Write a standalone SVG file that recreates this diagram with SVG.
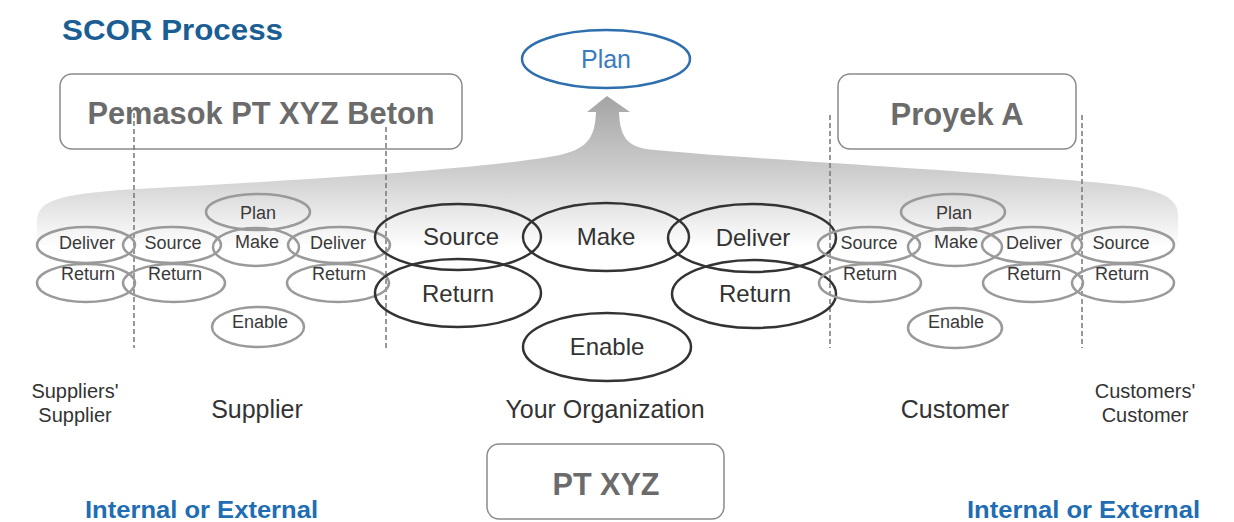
<svg xmlns="http://www.w3.org/2000/svg" width="1234" height="522" viewBox="0 0 1234 522">
<style>
.t{font-family:"Liberation Sans",Arial,sans-serif;text-anchor:middle}
.sm{fill:none;stroke:#9a9a9a;stroke-width:2.5}
.bg{fill:none;stroke:#333;stroke-width:2.5}
.st{font-size:18px;fill:#3a3a3a}
.bt{font-size:24px;fill:#333}
.lb{font-size:25px;fill:#333}
.lb2{font-size:20px;fill:#333}
.box{fill:#fff;stroke:#8a8a8a;stroke-width:1.5}
.bx{font-size:31px;font-weight:bold;fill:#6b6b6b}
.ie{font-family:"Liberation Sans",Arial,sans-serif;font-size:24px;font-weight:bold;fill:#1f6db3}
.dash{stroke:#777;stroke-width:1.5;stroke-dasharray:5 3;fill:none}
</style>
<defs>
<linearGradient id="gr" gradientUnits="userSpaceOnUse" x1="0" y1="100" x2="0" y2="248">
<stop offset="0" stop-color="#a6a6a6"/>
<stop offset="0.5" stop-color="#cfcfcf"/>
<stop offset="0.8" stop-color="#ececec"/>
<stop offset="1" stop-color="#ffffff"/>
</linearGradient>
</defs>
<rect width="1234" height="522" fill="#fff"/>
<text x="62" y="40" font-family="Liberation Sans,Arial,sans-serif" font-size="30" font-weight="bold" fill="#1b5e93" textLength="221" lengthAdjust="spacingAndGlyphs">SCOR Process</text>
<path id="band" d="M37 245 L37 222 C37 200 60 195 120 190 C300 180 480 170 560 155 C590 148 595 135 596 112 L587 112 L607 96 L630 112 L619 112 C620 135 625 148 655 150 C760 160 1000 172 1120 185 C1165 190 1178 200 1178 215 L1178 245 Z" fill="url(#gr)"/>
<g id="plan-top">
<ellipse cx="606" cy="59" rx="84" ry="29" fill="#fff" stroke="#2f6fad" stroke-width="2.5"/>
<text class="t" x="606" y="68" font-size="25" fill="#3b7cbf">Plan</text>
</g>
<g id="box-pemasok">
<rect class="box" x="60" y="74" width="402" height="75" rx="12"/>
<text class="t bx" x="261" y="124" textLength="347" lengthAdjust="spacingAndGlyphs">Pemasok PT XYZ Beton</text>
</g>
<g id="box-proyek">
<rect class="box" x="838" y="74" width="238" height="75" rx="12"/>
<text class="t bx" x="957" y="125" textLength="133" lengthAdjust="spacingAndGlyphs">Proyek A</text>
</g>
<g id="box-ptxyz">
<rect class="box" x="487" y="444" width="237" height="75" rx="12"/>
<text class="t bx" x="606" y="495" textLength="107" lengthAdjust="spacingAndGlyphs">PT XYZ</text>
</g>
<g id="connectors">
<line class="dash" x1="134" y1="113" x2="134" y2="348"/>
<line class="dash" x1="386" y1="127" x2="386" y2="348"/>
<line class="dash" x1="830" y1="115" x2="830" y2="348"/>
<line class="dash" x1="1082" y1="115" x2="1082" y2="348"/>
</g>
<g id="ss-deliver"><ellipse class="sm" cx="86" cy="245" rx="49" ry="18"/><text class="t st" x="87" y="249">Deliver</text></g>
<g id="ss-return"><ellipse class="sm" cx="86" cy="283" rx="49" ry="19"/><text class="t st" x="88" y="280">Return</text></g>
<g id="s-source"><ellipse class="sm" cx="172" cy="245" rx="49" ry="18"/><text class="t st" x="173" y="249">Source</text></g>
<g id="s-return1"><ellipse class="sm" cx="174" cy="283" rx="51" ry="19"/><text class="t st" x="175" y="280">Return</text></g>
<g id="s-plan"><ellipse class="sm" cx="258" cy="212" rx="52" ry="18"/><text class="t st" x="258" y="219">Plan</text></g>
<g id="s-make"><ellipse class="sm" cx="256" cy="247" rx="43" ry="19"/><text class="t st" x="257" y="248">Make</text></g>
<g id="s-deliver"><ellipse class="sm" cx="339" cy="245" rx="51" ry="18"/><text class="t st" x="338" y="249">Deliver</text></g>
<g id="s-return2"><ellipse class="sm" cx="338" cy="283" rx="51" ry="19"/><text class="t st" x="339" y="280">Return</text></g>
<g id="s-enable"><ellipse class="sm" cx="258" cy="327" rx="46" ry="20"/><text class="t st" x="260" y="328">Enable</text></g>
<g id="o-source"><ellipse class="bg" cx="458" cy="237" rx="83" ry="33"/><text class="t bt" x="461" y="245">Source</text></g>
<g id="o-make"><ellipse class="bg" cx="606" cy="237" rx="83" ry="34"/><text class="t bt" x="606" y="245">Make</text></g>
<g id="o-deliver"><ellipse class="bg" cx="752" cy="238" rx="84" ry="34"/><text class="t bt" x="753" y="246">Deliver</text></g>
<g id="o-return1"><ellipse class="bg" cx="458" cy="293" rx="83" ry="34"/><text class="t bt" x="458" y="302">Return</text></g>
<g id="o-return2"><ellipse class="bg" cx="754" cy="294" rx="82" ry="34"/><text class="t bt" x="755" y="302">Return</text></g>
<g id="o-enable"><ellipse class="bg" cx="607" cy="347" rx="84" ry="34"/><text class="t bt" x="607" y="355">Enable</text></g>
<g id="c-source"><ellipse class="sm" cx="869" cy="245" rx="51" ry="18"/><text class="t st" x="869" y="249">Source</text></g>
<g id="c-return1"><ellipse class="sm" cx="870" cy="283" rx="51" ry="19"/><text class="t st" x="870" y="280">Return</text></g>
<g id="c-plan"><ellipse class="sm" cx="953" cy="212" rx="52" ry="18"/><text class="t st" x="954" y="219">Plan</text></g>
<g id="c-make"><ellipse class="sm" cx="955" cy="247" rx="47" ry="19"/><text class="t st" x="956" y="248">Make</text></g>
<g id="c-deliver"><ellipse class="sm" cx="1032" cy="245" rx="50" ry="18"/><text class="t st" x="1034" y="249">Deliver</text></g>
<g id="c-return2"><ellipse class="sm" cx="1033" cy="283" rx="50" ry="19"/><text class="t st" x="1034" y="280">Return</text></g>
<g id="c-enable"><ellipse class="sm" cx="955" cy="328" rx="47" ry="20"/><text class="t st" x="956" y="328">Enable</text></g>
<g id="cc-source"><ellipse class="sm" cx="1123" cy="245" rx="51" ry="18"/><text class="t st" x="1121" y="249">Source</text></g>
<g id="cc-return"><ellipse class="sm" cx="1123" cy="283" rx="51" ry="19"/><text class="t st" x="1122" y="280">Return</text></g>
<g id="labels">
<text class="t lb2" x="75" y="398">Suppliers'</text>
<text class="t lb2" x="75" y="422">Supplier</text>
<text class="t lb" x="257" y="418">Supplier</text>
<text class="t lb" x="605" y="418">Your Organization</text>
<text class="t lb" x="955" y="418">Customer</text>
<text class="t lb2" x="1145" y="398">Customers'</text>
<text class="t lb2" x="1145" y="422">Customer</text>
<text class="ie" x="85" y="518" textLength="233" lengthAdjust="spacingAndGlyphs">Internal or External</text>
<text class="ie" x="967" y="518" textLength="233" lengthAdjust="spacingAndGlyphs">Internal or External</text>
</g>
</svg>
